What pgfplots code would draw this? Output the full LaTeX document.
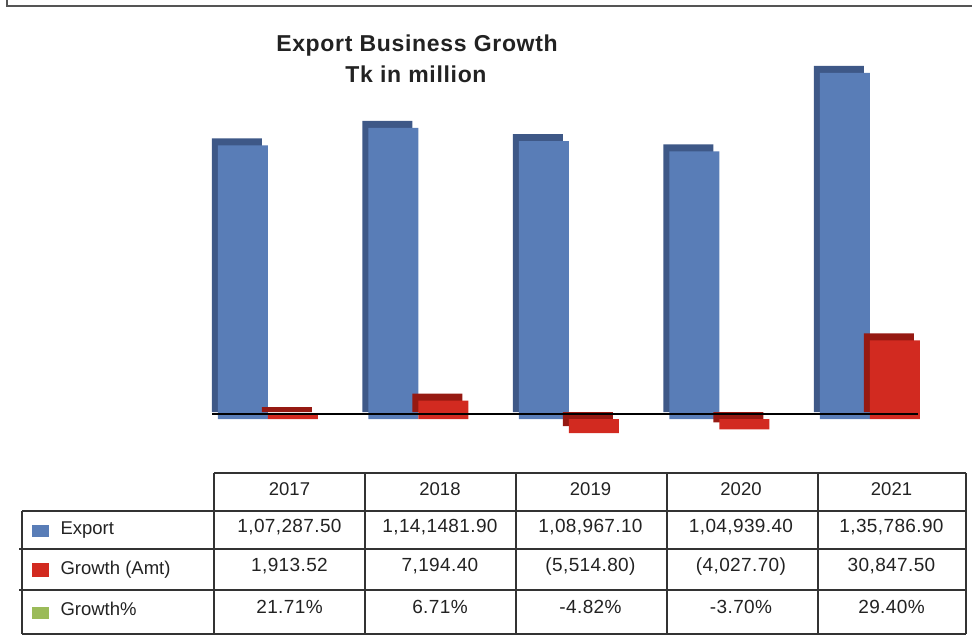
\documentclass[border=0pt]{standalone}
\usepackage{pgfplots}
\pgfplotsset{compat=1.18}
\usepackage{pgfplotstable}
\usepackage{fontspec}
\setmainfont{Liberation Sans}
\newfontfamily\titlefont[LetterSpace=3]{Liberation Sans}
\newfontfamily\numfont[LetterSpace=2]{Liberation Sans}

\definecolor{expfront}{HTML}{597DB7}
\definecolor{expside}{HTML}{3E5887}
\definecolor{grofront}{HTML}{D22A20}
\definecolor{groside}{HTML}{961912}
\definecolor{pctgreen}{HTML}{9BBB59}
\definecolor{framegray}{HTML}{555555}
\definecolor{gridline}{HTML}{333333}
\definecolor{txt}{HTML}{222222}

% Export and growth amount, Tk in million
\pgfplotstableread{
x export growth
0 107287.50 1913.52
1 114148.19 7194.40
2 108967.10 -5514.80
3 104939.40 -4027.70
4 135786.90 30847.50
}\datatable

\begin{document}
\begin{tikzpicture}[x=1pt,y=1pt]
\path[use as bounding box] (0,0) rectangle (972,640);

% outer frame (top and left only)
\draw[framegray, line width=2pt] (7,640) -- (7,634) -- (972,634);

% title
\node[anchor=base, font=\titlefont\bfseries\fontsize{23}{27}\selectfont, text=txt] at (417,588) {Export Business Growth};
\node[anchor=base, font=\titlefont\bfseries\fontsize{23}{27}\selectfont, text=txt] at (416,557) {Tk in million};

\begin{axis}[
    at={(214pt,195.4pt)}, anchor=south west,
    scale only axis,
    width=752.5pt, height=413pt,
    xmin=-0.5, xmax=4.5,
    ymin=-12000, ymax=150000,
    axis lines=none,
    clip=false,
]
% export: side/top face, then front face
\addplot[ybar, bar width=50pt, bar shift=-52.5pt, yshift=2pt, fill=expside, draw=none]
    table[x=x, y=export] {\datatable};
\addplot[ybar, bar width=50pt, bar shift=-46.5pt, yshift=-5pt, fill=expfront, draw=none]
    table[x=x, y=export] {\datatable};
% growth amount
\addplot[ybar, bar width=50pt, bar shift=-2.5pt, yshift=2pt, fill=groside, draw=none]
    table[x=x, y=growth] {\datatable};
\addplot[ybar, bar width=50pt, bar shift=3.5pt, yshift=-5pt, fill=grofront, draw=none]
    table[x=x, y=growth] {\datatable};
\draw[black, line width=1.2pt] (axis cs:-0.51,0) -- (axis cs:4.18,0);
\end{axis}

% data table grid
\begin{scope}[gridline, line width=1.3pt]
\draw (214,167) -- (966,167);
\draw (22,129) -- (966,129);
\draw (19,91) -- (966,91);
\draw (19,50) -- (966,50);
\draw (22,6) -- (966,6);
\draw (22,129) -- (22,6);
\foreach \xx in {214,365,516,667,818,966} \draw (\xx,167) -- (\xx,6);
\end{scope}

\begin{scope}[font=\fontsize{18.5}{22}\selectfont, text=txt]
% header
\foreach \yr [count=\i from 0] in {2017,2018,2019,2020,2021}
  \node[anchor=base] at (289.5+150.5*\i,144) {\yr};
% row labels with legend keys
\fill[expfront] (32,103) rectangle (49,115);
\fill[grofront] (32,63) rectangle (49,77);
\fill[pctgreen] (32,21) rectangle (49,33);
\node[anchor=base west] at (57,105) {Export};
\node[anchor=base west] at (57,65) {Growth (Amt)};
\node[anchor=base west] at (57,24) {Growth\%};
\end{scope}

\begin{scope}[font=\numfont\fontsize{19}{22}\selectfont, text=txt]
\foreach \v [count=\i from 0] in {1{,}07{,}287.50,1{,}14{,}1481.90,1{,}08{,}967.10,1{,}04{,}939.40,1{,}35{,}786.90}
  \node[anchor=base] at (289.5+150.5*\i,107) {\v};
\foreach \v [count=\i from 0] in {1{,}913.52,7{,}194.40,(5{,}514.80),(4{,}027.70),30{,}847.50}
  \node[anchor=base] at (289.5+150.5*\i,68) {\v};
\foreach \v [count=\i from 0] in {21.71\%,6.71\%,-4.82\%,-3.70\%,29.40\%}
  \node[anchor=base] at (289.5+150.5*\i,27) {\v};
\end{scope}
\end{tikzpicture}
\end{document}
